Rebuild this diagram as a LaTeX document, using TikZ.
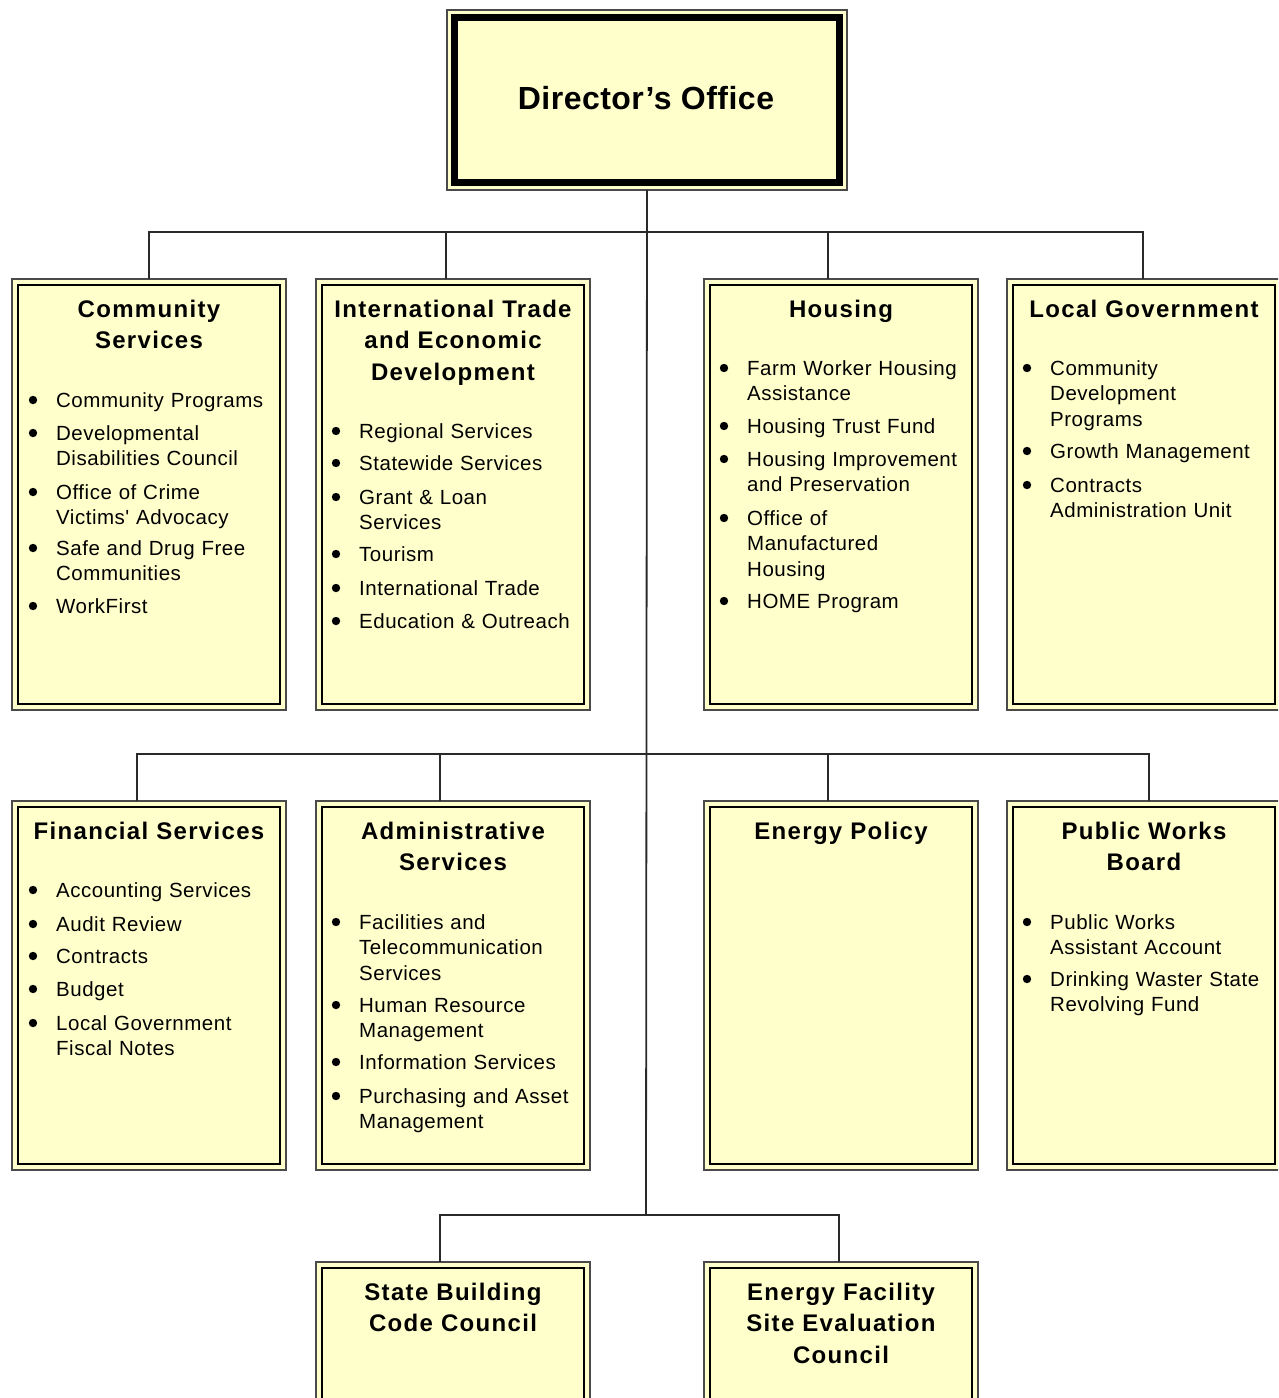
\documentclass[tikz,border=0pt]{standalone}
\usepackage{fontspec}
\setmainfont{Liberation Sans}
\newfontfamily\bodyfont[LetterSpace=2.5]{Liberation Sans}
\newfontfamily\headfont[LetterSpace=5.5]{Liberation Sans}
\newfontfamily\dirfont[LetterSpace=1.5]{Liberation Sans}
\usetikzlibrary{calc}
\definecolor{boxfill}{HTML}{FFFFCC}
\definecolor{rim}{HTML}{4A4A4A}
\definecolor{wire}{HTML}{2A2A2A}
\tikzset{
  unitbox/.style={draw=rim, line width=1.6pt, fill=boxfill, minimum width=274,
    minimum height=431, anchor=north west, inner sep=0pt, outer sep=0pt},
  innerframe/.style={draw=black, line width=2.2pt},
  wires/.style={draw=wire, line width=1.8pt},
  head/.style={font=\headfont\bfseries\fontsize{24}{31.5}\selectfont, align=center,
    text width=262, inner sep=0pt, anchor=base},
  itm/.style={font=\bodyfont\fontsize{20.5}{25.5}\selectfont, align=left,
    text width=235, inner sep=0pt, anchor=base west},
}
\newcommand\bitem[4]{%
  \node[itm] (#1) at (#2,#3) {#4};
  \fill ([xshift=-23pt,yshift=7pt]#1.base west) circle (4.2pt);}
\begin{document}
\begin{tikzpicture}[x=1pt,y=-1pt]
\useasboundingbox (0,0) rectangle (1278,1398);
\fill[white] (0,0) rectangle (1278,1398);
\clip (0,0) rectangle (1278,1398);

% ---- boxes
\node[unitbox, minimum width=400, minimum height=180] (dir) at (447,10) {};
\draw[line width=7pt, draw=black]
  ($(dir.north west)+(7.5pt,-7pt)$) rectangle ($(dir.south east)+(-7.5pt,7.5pt)$);

\node[unitbox] (cs)  at (12,279) {};
\node[unitbox] (itd) at (316,279) {};
\node[unitbox] (hou) at (704,279) {};
\node[unitbox] (lg)  at (1007,279) {};

\node[unitbox, minimum height=369] (fin) at (12,801) {};
\node[unitbox, minimum height=369] (adm) at (316,801) {};
\node[unitbox, minimum height=369] (ep)  at (704,801) {};
\node[unitbox, minimum height=369] (pwb) at (1007,801) {};

\node[unitbox, minimum height=170] (sbc) at (316,1262) {};
\node[unitbox, minimum height=170] (efc) at (704,1262) {};

\foreach \n in {cs,itd,hou,lg,fin,adm,ep,pwb,sbc,efc}{
  \draw[innerframe] ($(\n.north west)+(6pt,-6pt)$) rectangle ($(\n.south east)+(-6pt,6pt)$);
}

% ---- connectors
\coordinate (j1) at (646,232);
\coordinate (j2) at (646,754);
\coordinate (j3) at (646,1215);
\coordinate (cs-in)  at (149,279);
\coordinate (itd-in) at (446,279);
\coordinate (hou-in) at (828,279);
\coordinate (lg-in)  at (1143,279);
\coordinate (fin-in) at (137,801);
\coordinate (adm-in) at (440,801);
\coordinate (ep-in)  at (828,801);
\coordinate (pwb-in) at (1149,801);
\coordinate (sbc-in) at (440,1262);
\coordinate (efc-in) at (839,1262);
\draw[wires] (dir.south) -- (j3);
\foreach \t in {cs-in,itd-in,hou-in,lg-in}{ \draw[wires] (j1) -| (\t); }
\foreach \t in {fin-in,adm-in,ep-in,pwb-in}{ \draw[wires] (j2) -| (\t); }
\foreach \t in {sbc-in,efc-in}{ \draw[wires] (j3) -| (\t); }

% ---- titles
\node[font=\dirfont\bfseries\fontsize{32}{38}\selectfont, anchor=base, inner sep=0pt]
  (dir-t) at (646,109) {Director’s Office};
\node[head] (cs-t)  at (149,317) {Community\\Services};
\node[head] (itd-t) at (453,317) {International Trade\\and Economic\\Development};
\node[head] (hou-t) at (841,317) {Housing};
\node[head] (lg-t)  at (1144,317) {Local Government};
\node[head] (fin-t) at (149,839) {Financial Services};
\node[head] (adm-t) at (453,839) {Administrative\\Services};
\node[head] (ep-t)  at (841,839) {Energy Policy};
\node[head] (pwb-t) at (1144,839) {Public Works\\Board};
\node[head] (sbc-t) at (453,1300) {State Building\\Code Council};
\node[head] (efc-t) at (841,1300) {Energy Facility\\Site Evaluation\\Council};

% ---- items
\bitem{cs1}{56}{407}{Community Programs}
\bitem{cs2}{56}{440}{Developmental\\Disabilities Council}
\bitem{cs3}{56}{499}{Office of Crime\\Victims' Advocacy}
\bitem{cs4}{56}{555}{Safe and Drug Free\\Communities}
\bitem{cs5}{56}{613}{WorkFirst}

\bitem{itd1}{359}{438}{Regional Services}
\bitem{itd2}{359}{470}{Statewide Services}
\bitem{itd3}{359}{504}{Grant \& Loan\\Services}
\bitem{itd4}{359}{561}{Tourism}
\bitem{itd5}{359}{595}{International Trade}
\bitem{itd6}{359}{628}{Education \& Outreach}

\bitem{hou1}{747}{375}{Farm Worker Housing\\Assistance}
\bitem{hou2}{747}{433}{Housing Trust Fund}
\bitem{hou3}{747}{466}{Housing Improvement\\and Preservation}
\bitem{hou4}{747}{525}{Office of\\Manufactured\\Housing}
\bitem{hou5}{747}{608}{HOME Program}

\bitem{lg1}{1050}{375}{Community\\Development\\Programs}
\bitem{lg2}{1050}{458}{Growth Management}
\bitem{lg3}{1050}{492}{Contracts\\Administration Unit}

\bitem{fin1}{56}{897}{Accounting Services}
\bitem{fin2}{56}{931}{Audit Review}
\bitem{fin3}{56}{963}{Contracts}
\bitem{fin4}{56}{996}{Budget}
\bitem{fin5}{56}{1030}{Local Government\\Fiscal Notes}

\bitem{adm1}{359}{929}{Facilities and\\Telecommunication\\Services}
\bitem{adm2}{359}{1012}{Human Resource\\Management}
\bitem{adm3}{359}{1069}{Information Services}
\bitem{adm4}{359}{1103}{Purchasing and Asset\\Management}

\bitem{pwb1}{1050}{929}{Public Works\\Assistant Account}
\bitem{pwb2}{1050}{986}{Drinking Waster State\\Revolving Fund}
\end{tikzpicture}
\end{document}
